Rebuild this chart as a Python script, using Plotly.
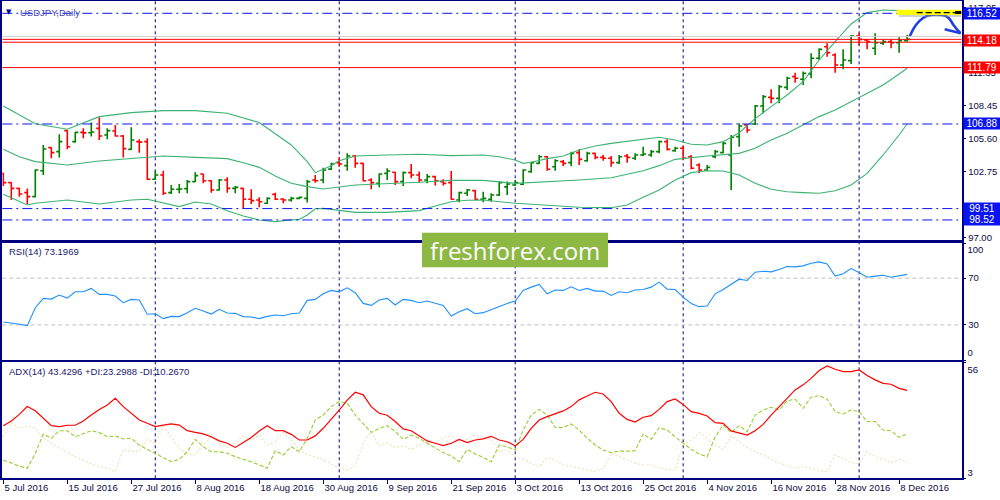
import plotly.graph_objects as go

# USDJPY daily bars, 5 Jul 2016 .. 9 Dec 2016 (one value per trading day)
bar_open = [102.58, 101.77, 101.27, 100.90, 100.55, 102.81, 104.82, 104.47, 106.30, 105.34,
            106.15, 106.12, 106.50, 105.92, 106.27, 105.83, 104.67, 105.34, 105.34, 102.06,
            102.44, 100.90, 101.19, 101.25, 101.86, 102.52, 101.94, 101.13, 102.00, 101.27,
            101.27, 100.32, 100.26, 99.97, 100.75, 100.35, 100.26, 100.40, 100.40, 102.00,
            102.00, 102.95, 103.51, 103.25, 104.09, 103.45, 102.00, 101.71, 102.58, 102.67,
            101.86, 102.64, 102.44, 102.00, 102.29, 101.86, 101.77, 100.26, 100.84, 101.07,
            100.32, 100.32, 100.69, 101.40, 101.57, 101.63, 102.73, 103.45, 104.03, 103.16,
            103.60, 103.51, 104.38, 103.68, 104.32, 103.97, 103.89, 103.51, 104.09, 103.89,
            104.18, 104.18, 104.47, 105.34, 104.56, 104.76, 104.03, 103.31, 102.87, 104.03,
            104.38, 104.18, 105.78, 106.79, 106.88, 108.45, 109.20, 109.11, 110.07, 111.00,
            110.77, 111.23, 112.60, 113.61, 112.89, 112.02, 112.40, 114.54, 114.20, 113.47,
            113.91, 114.05, 113.96, 114.14]
bar_high = [102.64, 101.80, 101.30, 101.27, 102.93, 105.05, 104.85, 105.98, 106.33, 106.21,
            106.50, 107.00, 107.46, 106.50, 106.79, 105.92, 106.59, 105.54, 105.63, 102.81,
            102.81, 101.57, 101.65, 102.00, 102.67, 102.55, 101.97, 102.09, 102.23, 101.48,
            101.30, 101.19, 100.49, 100.49, 100.90, 100.40, 100.55, 100.55, 102.00, 102.44,
            103.07, 103.50, 103.97, 104.32, 104.18, 103.48, 102.15, 102.58, 103.02, 102.70,
            102.73, 103.39, 102.73, 102.52, 102.38, 102.06, 102.78, 100.98, 101.22, 101.13,
            100.98, 100.84, 101.86, 101.86, 102.00, 102.93, 103.60, 104.18, 104.09, 103.80,
            103.74, 104.47, 104.67, 104.47, 104.38, 104.18, 104.09, 104.18, 104.26, 104.32,
            104.90, 104.61, 105.43, 105.54, 104.90, 104.96, 104.18, 103.45, 103.31, 104.61,
            105.34, 105.92, 106.94, 106.88, 108.53, 109.40, 109.90, 110.28, 111.00, 111.35,
            111.44, 113.03, 113.47, 113.91, 113.03, 113.38, 114.63, 114.83, 114.25, 114.78,
            114.20, 114.25, 114.43, 114.63]
bar_low = [101.48, 100.26, 100.55, 99.91, 100.49, 102.44, 103.89, 103.97, 104.67, 105.25,
           105.63, 105.78, 105.48, 105.54, 105.78, 103.97, 104.61, 104.38, 102.00, 102.00,
           100.69, 100.78, 100.84, 100.84, 101.83, 101.71, 100.90, 101.07, 100.90, 100.84,
           99.53, 99.91, 99.62, 99.91, 100.26, 99.97, 100.11, 100.32, 100.03, 101.77,
           101.71, 102.87, 103.16, 102.81, 103.07, 101.86, 101.19, 101.36, 102.00, 101.57,
           101.48, 102.15, 101.77, 101.71, 101.51, 101.51, 100.29, 100.06, 100.61, 100.26,
           100.06, 100.11, 100.61, 100.69, 101.48, 101.57, 102.64, 103.39, 102.81, 102.81,
           103.22, 103.22, 103.31, 103.60, 103.80, 103.68, 103.16, 103.39, 103.51, 103.74,
           104.09, 104.03, 104.32, 104.56, 104.47, 103.74, 102.93, 102.58, 102.81, 103.89,
           104.32, 101.13, 104.90, 106.12, 106.79, 107.81, 108.68, 108.68, 109.84, 110.48,
           110.28, 110.86, 112.45, 112.74, 111.35, 111.64, 112.11, 113.76, 113.38, 112.89,
           113.76, 113.47, 113.09, 114.05]
bar_close = [101.77, 101.27, 100.78, 100.55, 102.87, 104.70, 104.38, 105.34, 104.90, 106.15,
             106.10, 106.18, 105.83, 106.30, 105.83, 104.73, 105.48, 105.30, 102.06, 102.44,
             100.84, 101.19, 101.22, 101.86, 102.38, 101.94, 101.13, 102.00, 101.27, 101.36,
             100.32, 100.20, 100.11, 100.40, 100.32, 100.26, 100.40, 100.49, 101.86, 101.94,
             102.87, 103.38, 103.39, 104.09, 103.45, 101.94, 101.77, 102.52, 102.78, 101.86,
             102.64, 102.44, 102.00, 102.29, 101.94, 101.71, 100.32, 100.90, 101.13, 100.32,
             100.40, 100.69, 101.77, 101.65, 101.77, 102.87, 103.51, 104.03, 102.93, 103.68,
             103.45, 104.32, 103.80, 104.32, 103.97, 103.89, 103.51, 104.03, 103.97, 104.18,
             104.26, 104.47, 105.34, 104.67, 104.76, 103.89, 103.02, 102.87, 103.10, 104.47,
             105.19, 105.72, 106.70, 106.36, 108.45, 109.26, 109.11, 110.13, 110.86, 110.86,
             111.29, 112.60, 113.38, 113.09, 112.02, 112.45, 114.54, 114.25, 114.05, 113.96,
             114.05, 113.96, 114.14, 114.25]

# Bollinger bands (20), read at selected bars
bb_up_bar = [0, 4, 8, 12, 16, 20, 24, 28, 32, 36, 38, 39, 40, 41, 42, 44, 48, 52, 56, 60, 62,
             64, 65, 66, 68, 70, 72, 74, 76, 80, 82, 84, 86, 88, 90, 92, 94, 96, 98, 100, 102,
             104, 106, 108, 110, 112, 113]
bb_up = [108.45, 106.90, 106.42, 107.52, 107.87, 108.04, 108.04, 107.81, 107.00, 105.05, 103.60,
         102.64, 102.93, 103.25, 103.68, 104.09, 104.18, 104.24, 104.12, 104.18, 104.03,
         103.74, 103.45, 103.54, 103.86, 104.09, 104.61, 104.96, 105.19, 105.54, 105.72,
         105.49, 105.11, 105.05, 105.34, 106.12, 107.35, 108.39, 109.40, 110.57, 112.45,
         114.05, 115.59, 116.58, 116.81, 116.75, 116.58]
bb_mid_bar = [0, 2, 4, 8, 12, 16, 20, 24, 28, 30, 32, 34, 36, 38, 40, 44, 48, 52, 56, 60, 64,
              66, 68, 72, 76, 78, 80, 82, 84, 88, 90, 92, 94, 96, 98, 100, 102, 104, 106, 108,
              110, 112, 113]
bb_mid = [104.67, 104.03, 103.60, 103.31, 103.66, 103.86, 104.09, 103.97, 103.86, 103.51,
          103.10, 102.35, 101.71, 101.42, 101.22, 101.57, 101.68, 101.80, 101.97, 101.97,
          101.71, 101.77, 101.83, 102.00, 102.20, 102.52, 102.81, 103.25, 103.80, 104.09,
          104.18, 104.32, 104.76, 105.49, 106.07, 106.79, 107.52, 108.10, 108.82, 109.55,
          110.28, 111.23, 111.73]
bb_low_bar = [0, 3, 4, 8, 12, 16, 18, 20, 22, 24, 26, 28, 30, 32, 34, 36, 37, 38, 39, 40, 44,
              48, 52, 54, 56, 58, 60, 64, 68, 72, 76, 78, 80, 82, 84, 86, 88, 90, 92, 94, 96,
              98, 100, 102, 104, 106, 108, 110, 112, 113]
bb_low = [100.75, 99.82, 99.97, 100.26, 99.91, 100.26, 100.32, 99.97, 99.68, 100.08, 99.91,
          99.33, 98.86, 98.52, 98.37, 98.52, 98.57, 98.95, 99.50, 99.53, 99.18, 99.18, 99.33,
          99.74, 100.11, 100.23, 100.26, 99.97, 99.79, 99.62, 99.59, 99.82, 100.49, 101.13,
          102.00, 102.64, 102.81, 102.78, 102.44, 101.71, 101.19, 100.98, 100.90, 100.84,
          101.07, 101.57, 102.58, 104.18, 105.92, 106.88]

rsi = [32.5, 31.7, 30.5, 29.4, 44.7, 52.7, 52.1, 55.5, 52.9, 58.3,
       58.3, 61.2, 56.1, 56.1, 54.7, 49.0, 51.8, 51.3, 39.1, 39.6,
       35.4, 37.3, 37.1, 40.5, 44.2, 41.9, 39.3, 43.3, 40.2, 39.9,
       37.1, 36.8, 35.4, 37.3, 38.5, 37.9, 39.6, 40.2, 51.0, 51.8,
       56.6, 59.5, 58.3, 61.7, 57.5, 48.4, 46.7, 51.3, 52.7, 47.0,
       51.8, 51.0, 49.0, 50.4, 48.4, 46.7, 37.6, 41.3, 43.9, 39.6,
       40.5, 43.3, 45.6, 48.4, 50.4, 59.5, 62.3, 64.6, 56.6, 59.8,
       59.5, 62.6, 59.5, 61.2, 58.9, 58.9, 55.2, 58.3, 57.5, 59.8,
       60.3, 62.3, 66.6, 60.6, 60.3, 53.8, 48.4, 45.6, 46.1, 56.6,
       60.3, 64.6, 69.1, 68.0, 75.1, 75.9, 75.4, 77.3, 79.9, 79.6,
       80.5, 82.7, 83.9, 82.2, 71.7, 73.7, 78.2, 74.8, 70.8, 71.7,
       72.5, 70.8, 71.7, 73.2]

adx = [27.1, 29.3, 32.3, 35.9, 34.0, 30.5, 27.1, 26.7, 27.3, 27.3,
       29.3, 32.0, 34.6, 36.6, 39.7, 35.9, 32.8, 29.7, 28.2, 26.7,
       27.4, 27.9, 27.4, 24.8, 24.0, 23.3, 22.0, 20.1, 19.0, 17.1,
       19.4, 21.7, 24.7, 27.1, 24.8, 24.8, 23.1, 20.5, 20.5, 22.4,
       25.9, 30.0, 34.3, 38.9, 42.5, 41.3, 35.9, 32.8, 31.9, 29.0,
       25.6, 24.8, 22.4, 20.1, 19.0, 17.9, 19.0, 20.8, 19.3, 20.5,
       21.0, 22.2, 20.5, 19.7, 17.8, 20.8, 25.9, 29.7, 31.3, 32.5,
       33.9, 35.9, 39.0, 40.8, 42.5, 41.7, 38.2, 32.8, 30.0, 28.8,
       31.0, 31.7, 34.6, 38.2, 39.4, 36.9, 33.6, 32.8, 31.6, 28.5,
       28.2, 24.7, 23.9, 22.8, 24.8, 27.7, 32.0, 35.9, 39.7, 43.6,
       45.9, 48.9, 52.5, 54.6, 53.1, 52.0, 52.0, 52.8, 50.2, 48.2,
       46.6, 46.2, 44.3, 43.4]
plus_di = [11.3, 9.8, 8.5, 7.5, 14.4, 23.3, 21.3, 24.8, 24.8, 22.0,
           23.3, 24.8, 23.9, 22.0, 22.4, 21.0, 21.3, 18.2, 16.2, 14.4,
           12.5, 10.5, 11.6, 15.1, 20.8, 17.4, 15.1, 15.1, 14.4, 12.8,
           11.6, 10.5, 9.0, 7.5, 15.6, 13.6, 17.4, 15.1, 21.3, 29.7,
           32.0, 35.9, 38.2, 37.4, 32.0, 27.9, 24.0, 25.9, 27.1, 24.4,
           20.8, 22.8, 21.3, 19.0, 16.7, 14.7, 13.2, 10.5, 16.2, 14.1,
           12.5, 10.5, 18.2, 17.4, 15.9, 25.1, 32.0, 34.6, 32.0, 26.3,
           26.3, 27.9, 25.1, 21.3, 18.2, 15.9, 14.7, 15.4, 15.4, 15.6,
           23.3, 20.8, 26.2, 25.1, 22.0, 19.0, 16.2, 14.1, 12.8, 22.0,
           27.4, 23.9, 27.1, 24.4, 32.0, 34.3, 35.6, 34.3, 38.6, 39.3,
           35.1, 40.2, 41.0, 39.3, 33.6, 32.5, 34.3, 33.6, 29.0, 29.0,
           25.1, 24.8, 21.7, 23.3]
minus_di = [22.0, 28.5, 25.9, 27.0, 25.9, 21.3, 19.0, 16.7, 14.7, 12.8,
            11.0, 9.5, 8.2, 7.5, 5.9, 16.2, 15.1, 15.6, 20.8, 19.0,
            26.7, 22.0, 16.7, 14.1, 13.6, 18.2, 22.0, 19.0, 17.1, 19.0,
            22.4, 20.5, 22.8, 18.2, 19.7, 23.9, 20.5, 15.9, 13.6, 12.8,
            11.6, 9.5, 7.9, 6.7, 9.0, 19.0, 24.4, 17.8, 19.3, 17.1,
            17.8, 16.2, 18.2, 19.7, 19.0, 21.7, 22.4, 19.7, 20.8, 22.8,
            21.7, 21.0, 15.1, 15.9, 12.8, 11.6, 9.8, 8.2, 12.5, 11.3,
            9.0, 8.5, 7.5, 6.7, 5.9, 7.5, 14.4, 12.8, 11.3, 9.8,
            9.0, 9.0, 7.9, 7.0, 6.7, 18.2, 20.5, 23.9, 21.3, 18.2,
            16.2, 22.4, 19.7, 17.1, 15.1, 13.6, 11.6, 10.1, 8.5, 7.5,
            8.2, 7.5, 6.4, 5.9, 13.6, 12.1, 10.1, 9.5, 15.1, 12.8,
            11.3, 10.1, 11.6, 10.3]

date_labels = ["5 Jul 2016", "15 Jul 2016", "27 Jul 2016", "8 Aug 2016", "18 Aug 2016",
               "30 Aug 2016", "9 Sep 2016", "21 Sep 2016", "3 Oct 2016", "13 Oct 2016",
               "25 Oct 2016", "4 Nov 2016", "16 Nov 2016", "28 Nov 2016", "8 Dec 2016"]
month_start_bars = [19, 42, 64, 85, 107]

blue_levels = [116.52, 106.88, 99.51, 98.52]
red_levels = [114.25, 114.00, 111.79]
gray_level = 114.50
price_ticks = [97.00, 102.75, 105.60, 108.45, 111.35, 117.05]

# hand drawn forecast arrow (bar, price)
arrow_bar = [113.3, 114.1, 115.0, 115.9, 117.4, 118.2, 118.8, 119.4, 119.7]
arrow_price = [114.48, 115.50, 116.11, 116.37, 116.37, 116.11, 115.50, 114.98, 114.78]

bars = list(range(len(bar_open)))
FONT = "Liberation Sans, Arial, sans-serif"
NAVY = "#000080"
TXT = "#0a0a40"
X0, X1 = 0.0023, 0.9615
PRICE_DOM = [0.5206, 0.998]
RSI_DOM = [0.28, 0.5146]
ADX_DOM = [0.0434, 0.2754]
XR = [-0.125, 119.8]
RSI_R = [0.0, 100.3]
ADX_R = [2.87, 56.3]

fig = go.Figure()

for xs, ys in [(bb_up_bar, bb_up), (bb_mid_bar, bb_mid), (bb_low_bar, bb_low)]:
    fig.add_trace(go.Scatter(x=xs, y=ys, mode="lines", line=dict(color="#3cb371", width=1.1),
                             xaxis="x", yaxis="y", hoverinfo="skip"))

fig.add_trace(go.Ohlc(x=bars, open=bar_open, high=bar_high, low=bar_low, close=bar_close,
                      increasing=dict(line=dict(color="#008000", width=1.6)),
                      decreasing=dict(line=dict(color="#ff0000", width=1.6)),
                      tickwidth=0.38, xaxis="x", yaxis="y", hoverinfo="skip"))

fig.add_trace(go.Scatter(x=arrow_bar, y=arrow_price, mode="lines", line_shape="spline",
                         line=dict(color="#1f3fe0", width=2.6), xaxis="x", yaxis="y"))
fig.add_trace(go.Scatter(x=[117.7, arrow_bar[-1]], y=[115.13, arrow_price[-1]], mode="lines",
                         line=dict(color="#1f3fe0", width=2.6), xaxis="x", yaxis="y"))

fig.add_trace(go.Scatter(x=bars, y=rsi, mode="lines", line=dict(color="#1e90ff", width=1.1),
                         xaxis="x2", yaxis="y2"))

fig.add_trace(go.Scatter(x=bars, y=minus_di, mode="lines",
                         line=dict(color="#f5deb3", width=1.1, dash="2px,2px"),
                         xaxis="x3", yaxis="y3"))
fig.add_trace(go.Scatter(x=bars, y=plus_di, mode="lines",
                         line=dict(color="#9acd32", width=1.1, dash="4px,2px"),
                         xaxis="x3", yaxis="y3"))
fig.add_trace(go.Scatter(x=bars, y=adx, mode="lines", line=dict(color="#ff0000", width=1.2),
                         xaxis="x3", yaxis="y3"))

# empty traces so the extra label axes (100 / 0 and 56 / 3) get drawn
for xa, ya in [("x2", "y4"), ("x2", "y5"), ("x3", "y6"), ("x3", "y7")]:
    fig.add_trace(go.Scatter(x=[None], y=[None], mode="lines", xaxis=xa, yaxis=ya,
                             hoverinfo="skip"))

shapes = []
for b in month_start_bars:
    shapes.append(dict(type="line", xref="x", yref="paper", x0=b, x1=b, y0=ADX_DOM[0],
                       y1=PRICE_DOM[1], line=dict(color=NAVY, width=1, dash="3px,3px"),
                       layer="below"))
for lv in blue_levels:
    shapes.append(dict(type="line", xref="paper", yref="y", x0=X0, x1=X1, y0=lv, y1=lv,
                       line=dict(color="#0a14f0", width=1, dash="10px,4px,2px,4px")))
shapes.append(dict(type="line", xref="paper", yref="y", x0=X0, x1=X1, y0=gray_level,
                   y1=gray_level, line=dict(color="#d0d0d0", width=1)))
for lv in red_levels:
    shapes.append(dict(type="line", xref="paper", yref="y", x0=X0, x1=X1, y0=lv, y1=lv,
                       line=dict(color="#ff0000", width=1)))
for lv in (30, 70):
    shapes.append(dict(type="line", xref="x2 domain", yref="y2", x0=0, x1=1, y0=lv, y1=lv,
                       line=dict(color="#c0c0c0", width=1, dash="4px,3px"), layer="below"))

# yellow highlight with shadow near 116.52
shapes.append(dict(type="rect", xref="x", yref="y", x0=112.0, x1=119.8, y0=116.20, y1=116.62,
                   fillcolor="rgba(150,150,150,0.45)", line_width=0))
shapes.append(dict(type="rect", xref="x", yref="y", x0=111.7, x1=119.8, y0=116.37, y1=116.83,
                   fillcolor="#ffff00", line_width=0))
shapes.append(dict(type="line", xref="x", yref="y", x0=114.2, x1=119.0, y0=116.57, y1=116.57,
                   line=dict(color="#000000", width=1.2, dash="6px,3px")))
shapes.append(dict(type="rect", xref="x", yref="y", x0=119.0, x1=119.8, y0=116.46, y1=116.72,
                   fillcolor="#000000", line_width=0))

# watermark
shapes.append(dict(type="rect", xref="paper", yref="paper", x0=0.422, x1=0.608, y0=0.4654,
                   y1=0.5346, fillcolor="#8cb843", line_width=0, layer="above"))

annotations = [
    dict(x=0.009, y=0.977, xref="paper", yref="paper", text="▼", showarrow=False,
         font=dict(size=7, color=NAVY, family="DejaVu Sans"), xanchor="center", yanchor="middle"),
    dict(x=0.018, y=0.976, xref="paper", yref="paper", text="USDJPY,Daily", showarrow=False,
         font=dict(size=9.5, color="#4848b8", family=FONT), xanchor="left", yanchor="middle"),
    dict(x=0.007, y=0.498, xref="paper", yref="paper", text="RSI(14) 73.1969", showarrow=False,
         font=dict(size=9.5, color="#1a1a70", family=FONT), xanchor="left", yanchor="middle"),
    dict(x=0.007, y=0.258, xref="paper", yref="paper",
         text="ADX(14) 43.4296 +DI:23.2988 -DI:10.2670", showarrow=False,
         font=dict(size=9.5, color="#1a1a70", family=FONT), xanchor="left", yanchor="middle"),
    dict(x=0.515, y=0.5, xref="paper", yref="paper", text="freshforex.com", showarrow=False,
         font=dict(size=24, color="#ffffff", family="Open Sans, Noto Sans, sans-serif"),
         xanchor="center", yanchor="middle"),
]
for lv, col in [(116.52, "#0a14f0"), (106.88, "#0a14f0"), (99.51, "#0a14f0"), (98.52, "#0a14f0"),
                (114.18, "#ff0000"), (111.79, "#ff0000")]:
    annotations.append(dict(x=0.9625, y=lv, xref="paper", yref="y", text=f"{lv:.2f}",
                            showarrow=False, xanchor="left", yanchor="middle", bgcolor=col,
                            width=36, height=11, borderpad=0, align="center",
                            font=dict(size=10, color="#ffffff", family=FONT)))

frame = dict(showline=True, mirror=True, linecolor=NAVY, linewidth=1.5, showgrid=False,
             zeroline=False, automargin=False)
tickfont = dict(size=9.5, color=TXT, family=FONT)


def label_axis(over, anchor, rng, val, shift):
    return dict(overlaying=over, anchor=anchor, side="right", range=rng, tickvals=[val],
                ticks="outside", ticklen=3, tickcolor=NAVY, ticklabelshift=shift,
                tickfont=tickfont, showgrid=False, zeroline=False, showline=False,
                automargin=False)


fig.update_layout(
    width=1000, height=500, autosize=False,
    margin=dict(l=0, r=0, t=0, b=0),
    paper_bgcolor="#ffffff", plot_bgcolor="#ffffff",
    showlegend=False, hovermode=False,
    xaxis=dict(domain=[X0, X1], range=XR, anchor="y", showticklabels=False,
               rangeslider=dict(visible=False), **frame),
    xaxis2=dict(domain=[X0, X1], range=XR, anchor="y2", matches="x", showticklabels=False,
                **frame),
    xaxis3=dict(domain=[X0, X1], range=XR, anchor="y3", matches="x",
                tickvals=list(range(0, 8 * len(date_labels), 8)), ticktext=date_labels,
                ticks="outside", ticklen=4, tickcolor=NAVY, ticklabelposition="outside right",
                tickfont=tickfont, **frame),
    yaxis=dict(domain=PRICE_DOM, range=[96.80, 117.59], anchor="x", side="right",
               tickvals=price_ticks, tickformat=".2f", ticks="outside", ticklen=3,
               tickcolor=NAVY, tickfont=tickfont, **frame),
    yaxis2=dict(domain=RSI_DOM, range=RSI_R, anchor="x2", side="right",
                tickvals=[30, 70], ticks="outside", ticklen=3, tickcolor=NAVY,
                tickfont=tickfont, **frame),
    yaxis3=dict(domain=ADX_DOM, range=ADX_R, anchor="x3", side="right",
                showticklabels=False, **frame),
    yaxis4=label_axis("y2", "x2", RSI_R, 100, 7),
    yaxis5=label_axis("y2", "x2", RSI_R, 0, -7),
    yaxis6=label_axis("y3", "x3", ADX_R, 56, 7),
    yaxis7=label_axis("y3", "x3", ADX_R, 3, -5),
    shapes=shapes,
    annotations=annotations,
)

fig.write_html("out.html", config={"displayModeBar": False},
               post_script="document.body.style.margin='0';document.body.style.overflow='hidden';")
